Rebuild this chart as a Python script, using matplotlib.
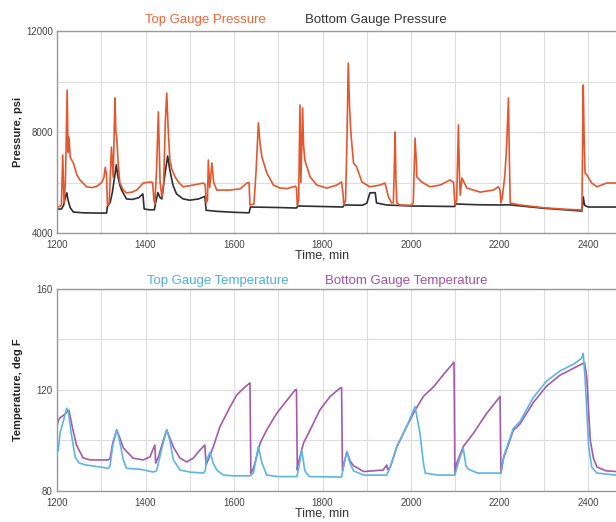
import matplotlib
matplotlib.use("Agg")
import matplotlib.pyplot as plt
from matplotlib.ticker import MultipleLocator

plt.rcParams["font.family"] = ["Liberation Sans", "DejaVu Sans"]

# Top gauge pressure, psi
top_p_t = [1200, 1206, 1210, 1213, 1216, 1219, 1223, 1225, 1227, 1230, 1237, 1245, 1252, 1267, 1280,
           1290, 1301, 1306, 1309, 1312, 1314, 1318, 1323, 1327, 1331, 1333, 1335, 1338, 1342, 1350,
           1357, 1370, 1380, 1395, 1410, 1416, 1419, 1421, 1425, 1429, 1433, 1437, 1441, 1445, 1448,
           1451, 1455, 1460, 1467, 1475, 1485, 1508, 1531, 1535, 1537, 1540, 1542, 1545, 1547, 1550,
           1554, 1561, 1590, 1614, 1629, 1634, 1636, 1645, 1650, 1655, 1659, 1663, 1674, 1689, 1704,
           1720, 1738, 1741, 1743, 1746, 1749, 1751, 1753, 1755, 1757, 1760, 1772, 1787, 1810, 1832,
           1843, 1846, 1848, 1852, 1855, 1858, 1861, 1864, 1870, 1877, 1889, 1907, 1930, 1941, 1949,
           1956, 1960, 1962, 1964, 1966, 1968, 1975, 2001, 2005, 2009, 2012, 2013, 2024, 2043, 2066,
           2088, 2096, 2099, 2103, 2107, 2109, 2111, 2115, 2126, 2156, 2186, 2197, 2201, 2203, 2206,
           2212, 2216, 2220, 2222, 2224, 2246, 2300, 2350, 2386, 2389, 2391, 2393, 2397, 2408, 2420,
           2442, 2463]
top_p = [5030, 5050, 5100, 7090, 5200, 6000, 9660, 7200, 7800, 7000, 6770, 6300, 6100, 5830, 5800,
         5850, 6000, 6200, 6600, 6300, 5100, 5150, 7400, 6200, 9350, 8000, 7800, 6800, 5980, 5700,
         5590, 5620, 5700, 5980, 6020, 6000, 5300, 5150, 6500, 8800, 6000, 5430, 6000, 8500, 9540,
         8200, 6890, 6500, 6220, 6000, 5830, 5900, 5980, 5900, 5190, 5300, 6890, 5800, 6200, 6770,
         6000, 5700, 5700, 5750, 5980, 6000, 5110, 5150, 6500, 8360, 7500, 7010, 6380, 5900, 5780,
         5760, 5850, 5800, 5110, 5300, 9070, 6000, 7500, 8950, 7500, 6890, 6220, 5900, 5780, 5900,
         6020, 5600, 5110, 5300, 7500, 10730, 9000, 7960, 6770, 6620, 6020, 5830, 5900, 5980, 5430,
         5190, 5200, 6500, 8000, 6000, 5190, 5110, 5100, 5200, 7760, 6800, 6220, 6020, 5830, 5900,
         6100, 6000, 5110, 5300, 8280, 6500, 5500, 6180, 5780, 5620, 5700, 5830, 5700, 5190, 5400,
         6300, 7500, 9350, 7000, 5190, 5110, 5000, 4940, 4910, 9860, 7800, 6380, 6300, 5980, 5830,
         5980, 5980]

# Bottom gauge pressure, psi
bot_p_t = [1200, 1210, 1215, 1220, 1222, 1225, 1230, 1237, 1260, 1290, 1312, 1314, 1320, 1325, 1330,
           1334, 1337, 1342, 1346, 1357, 1370, 1385, 1394, 1397, 1410, 1420, 1423, 1428, 1433, 1437,
           1443, 1450, 1455, 1462, 1470, 1485, 1500, 1520, 1534, 1537, 1560, 1600, 1634, 1637, 1700,
           1741, 1744, 1800, 1846, 1849, 1890, 1900, 1907, 1919, 1922, 1945, 2000, 2098, 2101, 2150,
           2203, 2220, 2300, 2386, 2389, 2392, 2400, 2463]
bot_p = [4950, 4950, 5100, 5500, 5590, 5300, 5000, 4830, 4800, 4790, 4790, 5050, 5200, 5600, 6200,
         6700, 6300, 5900, 5700, 5350, 5330, 5400, 5550, 4950, 4920, 4920, 5200, 5600, 5400, 5350,
         6200, 7050, 6500, 5900, 5550, 5350, 5300, 5350, 5450, 4900, 4860, 4820, 4800, 5030, 5010,
         4990, 5070, 5050, 5030, 5110, 5100, 5180, 5590, 5600, 5190, 5110, 5070, 5050, 5150, 5120,
         5110, 5120, 4980, 4870, 5430, 5100, 5030, 5030]

# Top gauge temperature, deg F
top_t_t = [1200, 1203, 1207, 1215, 1222, 1226, 1233, 1241, 1250, 1265, 1297, 1316, 1320, 1326, 1335,
           1340, 1350, 1357, 1388, 1418, 1425, 1437, 1448, 1455, 1463, 1478, 1500, 1531, 1535, 1538,
           1546, 1553, 1561, 1576, 1600, 1636, 1644, 1650, 1655, 1663, 1674, 1700, 1742, 1746, 1753,
           1760, 1770, 1843, 1850, 1855, 1862, 1870, 1893, 1945, 1953, 1968, 1990, 2009, 2020, 2028,
           2032, 2060, 2099, 2103, 2110, 2118, 2124, 2129, 2150, 2203, 2209, 2231, 2246, 2276, 2306,
           2336, 2367, 2385, 2389, 2393, 2397, 2401, 2408, 2420, 2463]
top_t = [97.6, 96, 103, 108, 112.8, 111, 102, 93.5, 91.1, 90.3, 89.5, 89, 90, 98, 104.2,
         101, 92.3, 89, 88.6, 87.5, 88, 97, 104.2, 100, 92.3, 88.3, 87.5, 87.1, 88, 92.3,
         95.4, 91, 88.3, 86.3, 86, 86, 87.1, 93, 97.6, 91.1, 86.3, 85.7, 85.7, 89, 96.2,
         88, 85.7, 85.5, 92, 95.6, 91, 88, 86.3, 86.3, 89.5, 97.6, 105.5, 113.4, 103, 91,
         87.1, 86.3, 86.3, 89, 93, 96.8, 90, 88.7, 87.1, 87.1, 93.6, 104.8, 107.5, 117, 123.5,
         127.5, 130.2, 132.5, 134.5, 125, 112, 98, 89.5, 87.1, 86.3]

# Bottom gauge temperature, deg F
bot_t_t = [1200, 1203, 1207, 1215, 1227, 1235, 1244, 1259, 1275, 1316, 1320, 1326, 1335, 1342, 1350,
           1372, 1395, 1410, 1421, 1423, 1430, 1440, 1448, 1455, 1463, 1478, 1493, 1508, 1523, 1534,
           1537, 1553, 1568, 1591, 1606, 1625, 1636, 1638, 1644, 1651, 1659, 1674, 1697, 1720, 1738,
           1741, 1743, 1745, 1757, 1772, 1794, 1817, 1840, 1843, 1845, 1850, 1855, 1862, 1870, 1893,
           1937, 1945, 1947, 1953, 1968, 1990, 2009, 2028, 2051, 2075, 2097, 2099, 2103, 2118, 2141,
           2171, 2201, 2203, 2209, 2231, 2246, 2276, 2306, 2336, 2367, 2388, 2392, 2397, 2401, 2405,
           2412, 2420, 2440, 2463]
bot_t = [105.5, 108, 109, 110, 112, 105, 98.2, 93.1, 92.3, 92.3, 93, 99, 104.2, 101, 97,
         93, 92.3, 93.5, 98.2, 91, 94, 100, 104.2, 101, 97.4, 93, 91.5, 93, 96.2, 98.2,
         90.3, 97.4, 105.4, 113.3, 118, 121.2, 122.8, 87, 89.1, 93.6, 99, 104.2, 110.9, 116, 120,
         120.2, 88.3, 91, 99, 104.2, 112.1, 117.4, 120.8, 120.9, 88, 92, 95.6, 92, 90, 87.7,
         88.3, 90.3, 88.5, 89.5, 97.6, 105.5, 112, 117.5, 121.3, 126.5, 131, 87, 91, 97.6, 102.9,
         110.8, 117.4, 87.1, 93, 104, 106.5, 115, 121.5, 125.8, 128.6, 130.5, 130.8, 125, 112, 100,
         93, 89.5, 88, 87.7]

red = "#E4572E"
dark = "#2E2E33"
blue = "#5BB6E6"
purple = "#A45AA8"
grid_c = "#DDDDDD"
tick_c = "#444444"

fig = plt.figure(figsize=(6.16, 5.22), dpi=100)
ax1 = fig.add_axes([0.0925, 0.5536, 0.9075, 0.387])
ax2 = fig.add_axes([0.0925, 0.0594, 0.9075, 0.387])


def style(ax, ymin, ymax, ymaj, ymin_step):
    ax.set_xlim(1200, 2463)
    ax.set_ylim(ymin, ymax)
    ax.xaxis.set_major_locator(MultipleLocator(200))
    ax.xaxis.set_minor_locator(MultipleLocator(100))
    ax.yaxis.set_major_locator(MultipleLocator(ymaj))
    ax.yaxis.set_minor_locator(MultipleLocator(ymin_step))
    ax.grid(which="both", color=grid_c, linewidth=0.8)
    ax.set_axisbelow(True)
    ax.tick_params(which="both", length=0, labelsize=7, labelcolor=tick_c)
    ax.tick_params(axis="x", pad=5)
    ax.tick_params(axis="y", pad=3)
    for s in ["left", "bottom", "top"]:
        ax.spines[s].set_color("#999999")
        ax.spines[s].set_linewidth(1.0)
    ax.spines["right"].set_visible(False)
    ax.set_xlabel("Time, min", fontsize=9, color="#333333", labelpad=0)
    ax.xaxis.set_label_coords((322 - 57) / 559, -0.08)


ax1.plot(bot_p_t, bot_p, color=dark, linewidth=1.2)
ax1.plot(top_p_t, top_p, color=red, linewidth=1.2)
style(ax1, 4000, 12000, 4000, 2000)
ax1.set_ylabel("Pressure, psi", fontsize=8, fontweight="bold", color="#222222")
ax1.yaxis.set_label_coords(-0.06, 0.5)

ax2.plot(bot_t_t, bot_t, color=purple, linewidth=1.2)
ax2.plot(top_t_t, top_t, color=blue, linewidth=1.2)
style(ax2, 80, 160, 40, 20)
ax2.set_ylabel("Temperature, deg F", fontsize=8, fontweight="bold", color="#222222")
ax2.yaxis.set_label_coords(-0.06, 0.5)

fig.text(145 / 616, 1 - 20 / 522, "Top Gauge Pressure", color="#F0643A", fontsize=9.5, va="center")
fig.text(305 / 616, 1 - 20 / 522, "Bottom Gauge Pressure", color="#333333", fontsize=9.5, va="center")
fig.text(147 / 616, 1 - 281 / 522, "Top Gauge Temperature", color="#4DAEE5", fontsize=9.5, va="center")
fig.text(325 / 616, 1 - 281 / 522, "Bottom Gauge Temperature", color="#A34FA8", fontsize=9.5, va="center")

fig.savefig("out.png", dpi=100)
